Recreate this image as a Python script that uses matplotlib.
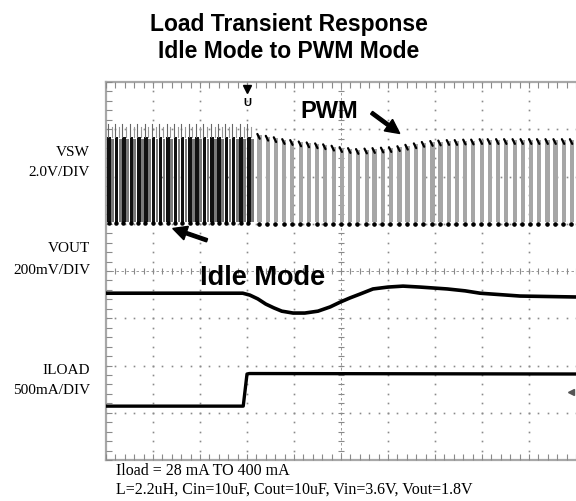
import numpy as np
import matplotlib
matplotlib.use("Agg")
import matplotlib.pyplot as plt
from matplotlib.patches import Rectangle, FancyArrow

# ---------------- data (screen divisions; x: 0..10, y: -4..4) ----------------
title_lines = ["Load Transient Response", "Idle Mode to PWM Mode"]
channel_labels = [("VSW", "2.0V/DIV"), ("VOUT", "200mV/DIV"), ("ILOAD", "500mA/DIV")]
footer_lines = ["Iload = 28 mA TO 400 mA",
                "L=2.2uH, Cin=10uF, Cout=10uF, Vin=3.6V, Vout=1.8V"]

# VSW, idle mode pulses (left part)
idle_starts = [0.03, 0.19, 0.34, 0.50, 0.66, 0.81, 0.97, 1.12, 1.28, 1.44,
               1.59, 1.75, 1.90, 2.06, 2.22, 2.37, 2.53, 2.68, 2.84, 3.00]
idle_high = 2.84
idle_spike = 3.12
vsw_low = 1.03

# VSW, PWM mode pulses (right part)
pwm_starts = [3.22, 3.40, 3.57, 3.75, 3.92, 4.10, 4.27, 4.45, 4.62, 4.80,
              4.97, 5.15, 5.32, 5.50, 5.67, 5.85, 6.02, 6.20, 6.37, 6.55,
              6.72, 6.90, 7.07, 7.25, 7.42, 7.60, 7.77, 7.95, 8.12, 8.30,
              8.47, 8.65, 8.82, 9.00, 9.17, 9.35, 9.52, 9.70, 9.87]
pwm_high = [2.88, 2.84, 2.81, 2.77, 2.75, 2.72, 2.70, 2.68, 2.66, 2.63,
            2.60, 2.58, 2.56, 2.57, 2.58, 2.59, 2.60, 2.62, 2.65, 2.68,
            2.71, 2.73, 2.74, 2.75, 2.75, 2.76, 2.76, 2.77, 2.77, 2.77,
            2.77, 2.77, 2.77, 2.77, 2.77, 2.77, 2.77, 2.77, 2.77]

# VOUT trace
vout_t = [0.00, 2.91, 3.06, 3.23, 3.40, 3.57, 3.74, 3.98, 4.23, 4.51,
          4.77, 4.98, 5.19, 5.40, 5.68, 6.00, 6.32, 6.68, 7.26, 7.64,
          7.96, 8.81, 10.0]
vout_v = [-0.47, -0.47, -0.51, -0.59, -0.70, -0.78, -0.85, -0.89, -0.89, -0.85,
          -0.76, -0.66, -0.57, -0.49, -0.38, -0.34, -0.32, -0.34, -0.38, -0.42,
          -0.47, -0.53, -0.55]

# ILOAD trace
iload_t = [0.00, 2.92, 3.00, 3.05, 10.0]
iload_v = [-2.86, -2.86, -2.18, -2.17, -2.18]

trigger_x = 3.0

# ---------------- figure ----------------
W, H = 576, 501
fig = plt.figure(figsize=(W / 100, H / 100), dpi=100)
fig.patch.set_facecolor("white")
ax = fig.add_axes([106 / W, 41 / H, 470 / W, 378 / H])
ax.set_xlim(0, 10)
ax.set_ylim(-4, 4)
ax.axis("off")

grid_c = "#8a8a8a"
# dotted graticule
for xv in [1, 2, 3, 4, 6, 7, 8, 9]:
    ys = np.linspace(-4, 4, 41)
    ax.plot([xv] * len(ys), ys, ls="none", marker="s", ms=1.2, color=grid_c, mew=0, zorder=1)
for yv in [-3, -2, -1, 1, 2, 3]:
    xs = np.linspace(0, 10, 51)
    ax.plot(xs, [yv] * len(xs), ls="none", marker="s", ms=1.2, color=grid_c, mew=0, zorder=1)
# centre axes with minor ticks
xs = np.linspace(0, 10, 51)
ys = np.linspace(-4, 4, 41)
ax.plot([0, 10], [0, 0], color=grid_c, lw=0.6, ls=(0, (3, 3)), zorder=1)
ax.plot(xs, [0] * len(xs), ls="none", marker="|", ms=4, color=grid_c, mew=0.8, zorder=1)
ax.plot([5, 5], [-4, 4], color=grid_c, lw=0.6, ls=(0, (3, 3)), zorder=1)
ax.plot([5] * len(ys), ys, ls="none", marker="_", ms=4, color=grid_c, mew=0.8, zorder=1)
# border
ax.plot([0, 0], [-4, 4], color="#a8a8a8", lw=1.6, zorder=1, clip_on=False)
ax.plot([0, 10], [4, 4], color="#a8a8a8", lw=1.6, zorder=1, clip_on=False)
ax.plot([0, 10], [-4, -4], color="#a8a8a8", lw=1.6, zorder=1, clip_on=False)
ax.plot(xs, [3.94] * len(xs), ls="none", marker="|", ms=4, color=grid_c, mew=0.8, zorder=1, clip_on=False)
ax.plot(xs, [-3.94] * len(xs), ls="none", marker="|", ms=4, color=grid_c, mew=0.8, zorder=1, clip_on=False)
ax.plot([0.06] * len(ys), ys, ls="none", marker="_", ms=4, color=grid_c, mew=0.8, zorder=1, clip_on=False)

# ---------------- VSW ----------------
for s in idle_starts:
    ax.add_patch(Rectangle((s, vsw_low), 0.075, idle_high - vsw_low,
                           facecolor="#111111", edgecolor="none", zorder=3))
    ax.add_patch(Rectangle((s + 0.085, vsw_low), 0.055, idle_high - vsw_low - 0.05,
                           facecolor="#7a7a7a", edgecolor="none", zorder=3))
    ax.plot([s + 0.01, s + 0.01], [idle_high, idle_spike], color="#666666", lw=0.8, zorder=3)
    ax.plot([s + 0.09, s + 0.09], [idle_high, idle_spike - 0.08], color="#999999", lw=0.8, zorder=3)
ax.plot(np.array(idle_starts) + 0.03, [vsw_low - 0.02] * len(idle_starts), ls="none",
        marker="o", ms=2.2, color="black", zorder=4)

for s, h in zip(pwm_starts, pwm_high):
    ax.add_patch(Rectangle((s, vsw_low), 0.09, h - vsw_low,
                           facecolor="#a6a6a6", edgecolor="none", zorder=3))
    ax.plot([s, s + 0.05], [h + 0.02, h - 0.08], color="black", lw=1.6,
            solid_capstyle="round", zorder=4, clip_on=False)
ax.plot(np.array(pwm_starts) + 0.03, [vsw_low - 0.03] * len(pwm_starts), ls="none",
        marker="o", ms=2.3, color="black", zorder=4, clip_on=False)

# ---------------- VOUT / ILOAD ----------------
ax.plot(vout_t, vout_v, color="black", lw=2.6, solid_capstyle="butt",
        solid_joinstyle="round", zorder=5, clip_on=False)
ax.plot(iload_t, iload_v, color="black", lw=2.4, solid_capstyle="butt", zorder=5, clip_on=False)

# markers
ax.plot([trigger_x], [3.86], marker="v", ms=6, color="black", zorder=6, clip_on=False)
ax.text(trigger_x, 3.55, "U", ha="center", va="center", fontsize=8, fontweight="bold",
        family="Liberation Sans", zorder=6)
ax.plot([9.9], [-2.56], marker="<", ms=4, color="#555555", zorder=6, clip_on=False)

# annotations
ax.text(2.0, -0.15, "Idle Mode", fontsize=19.5, fontweight="bold", family="Liberation Sans",
        ha="left", va="center", zorder=7)
ax.add_patch(FancyArrow(2.15, 0.65, -0.73, 0.25, width=0.07, head_width=0.3, head_length=0.3,
                        length_includes_head=True, color="black", zorder=7))
ax.text(4.13, 3.38, "PWM", fontsize=17, fontweight="bold", family="Liberation Sans",
        ha="left", va="center", zorder=7)
ax.add_patch(FancyArrow(5.65, 3.35, 0.6, -0.44, width=0.07, head_width=0.3, head_length=0.3,
                        length_includes_head=True, color="black", zorder=7))

# ---------------- text ----------------
def px(x, y):
    return x / W, 1 - y / H

fig.text(*px(289, 25), title_lines[0], ha="center", va="center", fontsize=16.5,
         fontweight="bold", family="Liberation Sans")
fig.text(*px(289, 52), title_lines[1], ha="center", va="center", fontsize=16.5,
         fontweight="bold", family="Liberation Sans")

label_y = [(152, 172), (248, 270), (370, 390)]
for (a, b), (y1, y2) in zip(channel_labels, label_y):
    fig.text(*px(90, y1), a, ha="right", va="center", fontsize=11, family="Liberation Serif")
    fig.text(*px(90, y2), b, ha="right", va="center", fontsize=11, family="Liberation Serif")

fig.text(*px(116, 471), footer_lines[0], ha="left", va="center", fontsize=11.5, family="Liberation Serif")
fig.text(*px(116, 490), footer_lines[1], ha="left", va="center", fontsize=11.5, family="Liberation Serif")

fig.savefig("out.png", dpi=100, facecolor="white")
